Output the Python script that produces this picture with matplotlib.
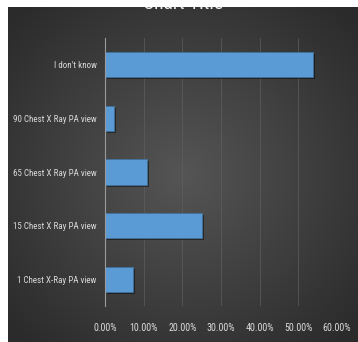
import numpy as np
import matplotlib
matplotlib.use("Agg")
import matplotlib.pyplot as plt
from matplotlib.patches import Rectangle
from matplotlib.ticker import FuncFormatter
import matplotlib.patheffects as pe

plt.rcParams["font.family"] = ["Roboto Condensed", "Liberation Sans Narrow", "DejaVu Sans"]
plt.rcParams["font.stretch"] = "condensed"

categories = ["1 Chest X-Ray PA view", "15 Chest X Ray PA view",
              "65 Chest X Ray PA view", "90 Chest X Ray PA view", "I don't know"]
shares = [7.3, 25.0, 10.9, 2.4, 53.8]   # percent of answers
x_ticks = [0, 10, 20, 30, 40, 50, 60]

W, H = 358, 342
fig = plt.figure(figsize=(W / 100, H / 100), dpi=100)
fig.patch.set_facecolor("white")

# dark radial gradient behind the whole chart area
bg = fig.add_axes([8 / W, 0, 1 - 8 / W, (H - 7) / H], zorder=0)
yy, xx = np.mgrid[-1:1:300j, -1:1:300j]
r = np.clip(np.sqrt(xx ** 2 + yy ** 2) / 1.35, 0, 1)
light, dark = np.array([0x55, 0x55, 0x55]), np.array([0x2b, 0x2b, 0x2b])
img = (light * (1 - r[..., None]) + dark * r[..., None]) / 255
bg.imshow(img, aspect="auto", extent=[0, 1, 0, 1])
bg.axis("off")

ax = fig.add_axes([105 / W, 36 / H, 232 / W, 268 / H], zorder=1)
ax.patch.set_alpha(0)
y = np.arange(len(categories))
bars = ax.barh(y, shares, height=0.47, color="#5b9bd5", edgecolor="#41719c", linewidth=0.6)
for b in bars:
    b.set_path_effects([pe.SimplePatchShadow(offset=(1.5, -1.5), shadow_rgbFace="black", alpha=0.45), pe.Normal()])

ax.set_xlim(0, 60)
ax.set_ylim(-0.5, len(categories) - 0.5)
ax.set_xticks(x_ticks)
ax.xaxis.set_major_formatter(FuncFormatter(lambda v, p: f"{v:.2f}%"))
ax.set_yticks(y)
ax.set_yticklabels(categories)
ax.grid(axis="x", color="#5e5e5e", linewidth=0.5)
ax.set_axisbelow(True)
for s in ["top", "right", "bottom"]:
    ax.spines[s].set_visible(False)
ax.spines["left"].set_color("#9a9a9a")
ax.spines["left"].set_linewidth(0.8)
ax.tick_params(axis="both", length=0, colors="#d9d9d9")
ax.tick_params(axis="y", pad=6, labelsize=6.5)
ax.tick_params(axis="x", pad=12, labelsize=7.2)

fig.text(183 / W, (H - 9) / H, "Chart Title", ha="center", va="baseline",
         color="#f2f2f2", fontsize=14, zorder=3)
# white strip above the chart area
fig.patches.append(Rectangle((0, (H - 7) / H), 1, 7 / H, transform=fig.transFigure,
                             facecolor="white", edgecolor="none", zorder=10))

fig.savefig("out.png", dpi=100)
